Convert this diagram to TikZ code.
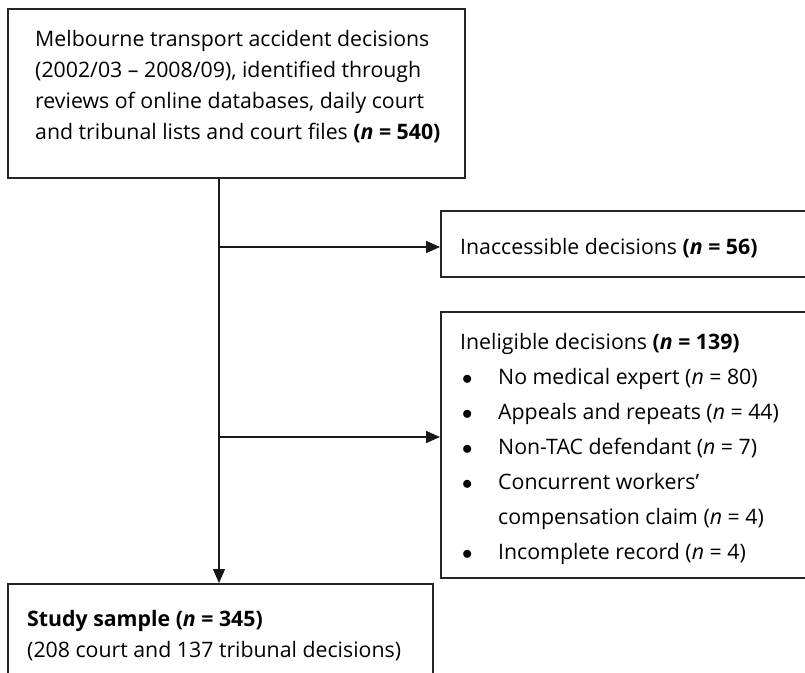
\documentclass[tikz,border=0pt]{standalone}
\usepackage{fontspec}
\setmainfont{Open Sans}
\usetikzlibrary{arrows.meta,positioning}

\tikzset{
  frame/.style={draw=black!85, line width=1.5pt, inner sep=0pt, anchor=north west},
  body/.style={inner sep=0pt, anchor=north west, align=left,
    font=\fontsize{21.3}{31}\selectfont},
  listbody/.style={body, font=\fontsize{21.3}{35}\selectfont},
  link/.style={draw=black!90, line width=1.5pt},
  arr/.style={link, -{Triangle[length=14pt,width=12pt]}}
}
\newcommand{\cnt}[1]{(\textit{n}~=~#1)}
\newcommand{\bcnt}[1]{\textbf{(\textit{n}~=~#1)}}
\newcommand{\itm}[1]{\makebox[38pt][l]{\hspace{2pt}$\bullet$}#1}

\begin{document}
\begin{tikzpicture}[x=1pt,y=-1pt]
\useasboundingbox (0,0) rectangle (805,672);

% boxes
\node[frame, minimum width=457pt, minimum height=169pt] (source) at (7,8) {};
\node[frame, minimum width=420pt, minimum height=66pt] (inaccessible) at (440,210) {};
\node[frame, minimum width=420pt, minimum height=266pt] (ineligible) at (440,311) {};
\node[frame, minimum width=425pt, minimum height=120pt] (sample) at (7,583) {};

% texts
\node[body] (sourcetext) at (35,30) {Melbourne transport accident decisions\\
  (2002/03 -- 2008/09), identified through\\
  reviews of online databases, daily court\\
  and tribunal lists and court files \bcnt{540}};
\node[body] (inaccessibletext) at (460,238) {Inaccessible decisions \bcnt{56}};
\node[listbody] (ineligibletext) at (460,333) {Ineligible decisions \bcnt{139}\\
  \itm{No medical expert \cnt{80}}\\
  \itm{Appeals and repeats \cnt{44}}\\
  \itm{Non-TAC defendant \cnt{7}}\\
  \itm{Concurrent workers'}\\
  \hspace*{38pt}compensation claim \cnt{4}\\
  \itm{Incomplete record \cnt{4}}};
\node[body] (sampletext) at (27,610) {\textbf{Study sample (\textit{n}~=~345)}\\
  (208 court and 137 tribunal decisions)};

% connectors
\coordinate (split1) at (219,247);
\coordinate (split2) at (219,437);
\draw[arr] (source.south -| split1) -- (sample.north -| split1);
\draw[arr] (split1) -- (split1 -| inaccessible.west);
\draw[arr] (split2) -- (split2 -| ineligible.west);
\end{tikzpicture}
\end{document}
